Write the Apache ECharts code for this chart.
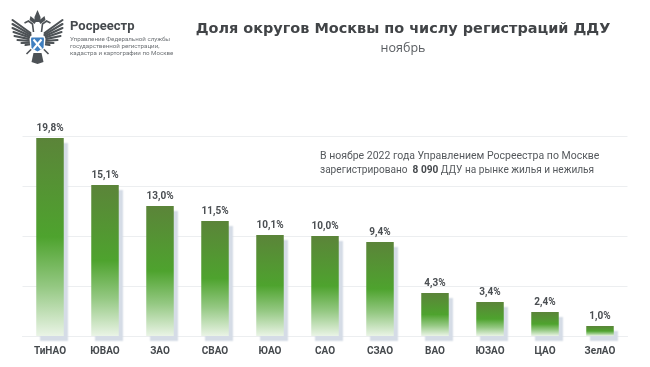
<!DOCTYPE html>
<html><head><meta charset="utf-8">
<style>html,body{margin:0;padding:0;background:#fff}#c{width:650px;height:367px}</style>
<script src="https://cdn.jsdelivr.net/npm/echarts@6/dist/echarts.min.js"></script>
</head><body><div id="c"></div>
<script>
const categories = ['ТиНАО','ЮВАО','ЗАО','СВАО','ЮАО','САО','СЗАО','ВАО','ЮЗАО','ЦАО','ЗелАО'];
const shares = [19.8,15.1,13.0,11.5,10.1,10.0,9.4,4.3,3.4,2.4,1.0];
const titleText = 'Доля округов Москвы по числу регистраций ДДУ';
const subtitleText = 'ноябрь';
const noteLine1 = 'В ноябре 2022 года Управлением Росреестра по Москве';
const noteLine2a = 'зарегистрировано  ';
const noteLine2b = '8 090';
const noteLine2c = ' ДДУ на рынке жилья и нежилья';
const orgName = 'Росреестр';
const orgLines = ['Управление Федеральной службы','государственной регистрации,','кадастра и картографии по Москве'];

const FONT = 'Roboto, "Noto Sans", sans-serif';
const chart = echarts.init(document.getElementById('c'), null, {renderer:'canvas'});
const grey = '#4d5256';
const cx = 37.5;
const feathers = [[25,20],[25,24],[25,28],[24,32],[23,36],[20,40],[16,43],[12,45]];
const logo = [];
[-1,1].forEach(s => {
  feathers.forEach((f,i) => logo.push({type:'line',shape:{x1:cx+s*7,y1:33+i*1.6,x2:cx+s*f[0],y2:f[1]},
    style:{stroke:grey,lineWidth:2.1,lineCap:'round'}}));
  logo.push({type:'polyline',shape:{points:[[cx+s*4,32],[cx+s*5,24],[cx+s*9,21],[cx+s*13,23]]},style:{fill:'none',stroke:grey,lineWidth:1.6}});
  logo.push({type:'polygon',shape:{points:[[cx+s*1,21],[cx+s*7,16],[cx+s*8,20],[cx+s*3,24]]},style:{fill:grey}});
  logo.push({type:'line',shape:{x1:cx+s*6,y1:49,x2:cx+s*11,y2:54},style:{stroke:grey,lineWidth:1.6}});
});
logo.push(
  {type:'polygon',shape:{points:[[cx-3,17],[cx,10],[cx+3,17],[cx+3,22],[cx-3,22]]},style:{fill:grey}},
  {type:'polygon',shape:{points:[[cx-4,53],[cx+4,53],[cx+6,62],[cx,64],[cx-6,62]]},style:{fill:grey}},
  {type:'polygon',shape:{points:[[cx-7,36],[cx+7,36],[cx+8,39],[cx+7,49],[cx,53],[cx-7,49],[cx-8,39]]},style:{fill:'#fff'}},
  {type:'polygon',shape:{points:[[cx-6,37.5],[cx+6,37.5],[cx+6.5,39],[cx+6,48],[cx,51.5],[cx-6,48],[cx-6.5,39]]},style:{fill:'#3f7fc0'}},
  {type:'line',shape:{x1:cx-4,y1:39.5,x2:cx+4,y2:49},style:{stroke:'#fff',lineWidth:2}},
  {type:'line',shape:{x1:cx+4,y1:39.5,x2:cx-4,y2:49},style:{stroke:'#fff',lineWidth:2}}
);
chart.setOption({
  animation:false,
  backgroundColor:'#fff',
  grid:{left:22.5,right:22.5,top:136,bottom:31},
  xAxis:{type:'category',data:categories,
    axisLine:{show:true,lineStyle:{color:'#eceef0',width:1}},axisTick:{show:false},
    axisLabel:{color:'#45494d',fontFamily:FONT,fontWeight:'bold',fontSize:10,margin:10}},
  yAxis:{type:'value',min:0,max:20,interval:5,axisLabel:{show:false},axisLine:{show:false},axisTick:{show:false},
    splitLine:{lineStyle:{color:'#eceef0',width:1}}},
  series:[{type:'bar',data:shares,barWidth:27.5,clip:true,
    itemStyle:{
      color:new echarts.graphic.LinearGradient(0,0,0,1,[
        {offset:0,color:'#5b8439'},{offset:0.5,color:'#4ea32e'},{offset:0.75,color:'#94c882'},{offset:1,color:'#eaf4e6'}]),
      shadowColor:'#d5dce6',shadowBlur:1.5,shadowOffsetX:4,shadowOffsetY:5},
    label:{show:true,position:'top',distance:5,color:'#4a4e52',fontFamily:FONT,fontWeight:'bold',fontSize:10,
      formatter:p=>p.value.toFixed(1).replace('.',',')+'%'}}],
  graphic:[
    {type:'text',x:403,y:29,style:{text:titleText,fill:'#414447',font:'bold 14.45px "DejaVu Sans", sans-serif',textAlign:'center',textVerticalAlign:'middle'}},
    {type:'text',x:403,y:48,style:{text:subtitleText,fill:'#595d61',font:'12.5px "Open Sans", sans-serif',textAlign:'center',textVerticalAlign:'middle'}},
    {type:'text',x:320,y:156,style:{text:noteLine1,fill:'#55595d',font:'10.5px '+FONT,textVerticalAlign:'middle'}},
    {type:'text',x:320,y:170,style:{text:'{a|'+noteLine2a+'}{b|'+noteLine2b+'}{a|'+noteLine2c+'}',textVerticalAlign:'middle',
      rich:{a:{fill:'#55595d',font:'10.1px '+FONT},b:{fill:'#45494d',font:'bold 10.1px '+FONT}}}},
    {type:'text',x:70,y:27,style:{text:orgName,fill:'#45494d',font:'bold 13px '+FONT,textVerticalAlign:'middle'}},
    {type:'text',x:70,y:39,style:{text:orgLines[0],fill:'#6d7175',font:'6.2px '+FONT,textVerticalAlign:'middle'}},
    {type:'text',x:70,y:46,style:{text:orgLines[1],fill:'#6d7175',font:'6.2px '+FONT,textVerticalAlign:'middle'}},
    {type:'text',x:70,y:53,style:{text:orgLines[2],fill:'#6d7175',font:'6.2px '+FONT,textVerticalAlign:'middle'}}
  ].concat(logo)
});
</script></body></html>
